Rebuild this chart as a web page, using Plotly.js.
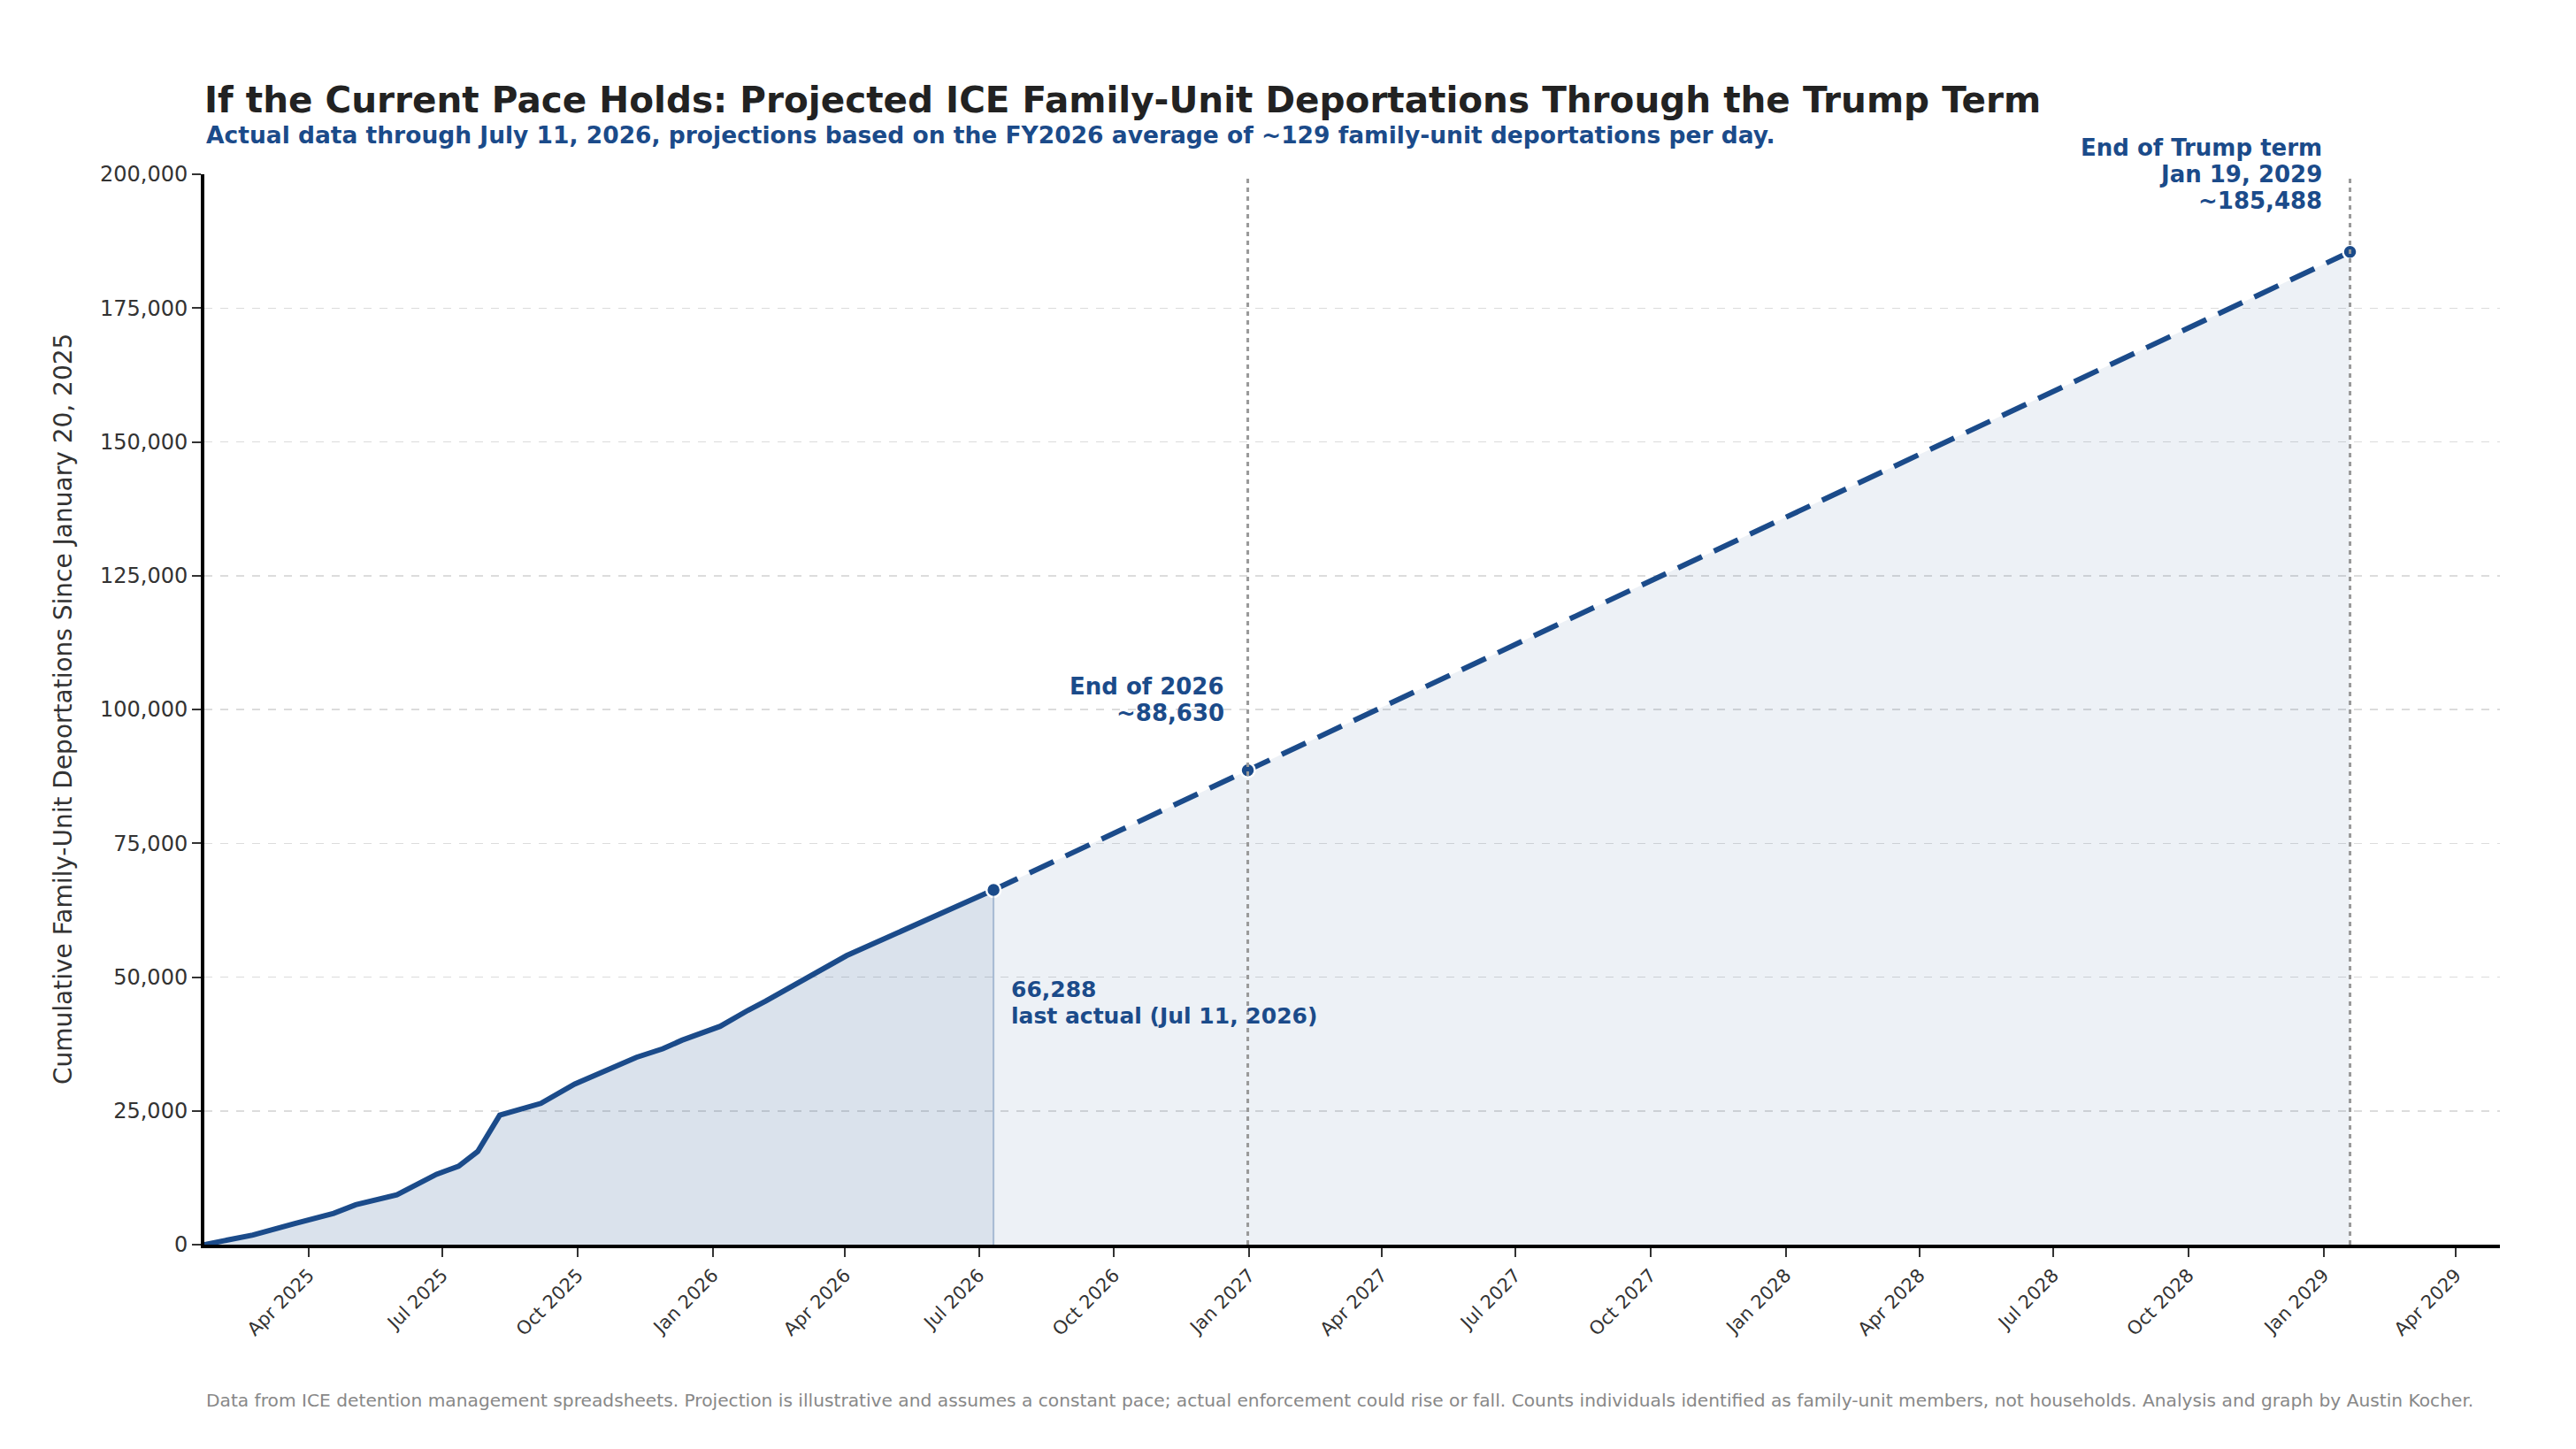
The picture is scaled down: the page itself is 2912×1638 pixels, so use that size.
<!DOCTYPE html>
<html>
<head>
<meta charset="utf-8">
<script src="https://cdn.plot.ly/plotly-3.0.1.min.js"></script>
<style>
  html, body { margin: 0; padding: 0; background: #fff; }
  #chart { width: 2912px; height: 1638px; }
</style>
</head>
<body>
<div id="chart"></div>
<script>
// actual cumulative family-unit deportations since Jan 20, 2025
var actualDates = ['2025-01-20', '2025-02-22', '2025-03-22', '2025-04-18', '2025-05-03',
    '2025-05-31', '2025-06-27', '2025-07-12', '2025-07-25', '2025-08-09', '2025-09-06',
    '2025-09-29', '2025-11-10', '2025-11-28', '2025-12-11', '2026-01-06', '2026-01-25',
    '2026-02-06', '2026-04-02', '2026-07-11'];
var actualValues = [0, 1800, 3900, 5850, 7450, 9300, 13150, 14650, 17400, 24200, 26400,
    30000, 35000, 36600, 38200, 40800, 43800, 45500, 54000, 66288];

// projection at ~129/day
var projDates = ['2026-07-11', '2026-12-31', '2029-01-19'];
var projValues = [66288, 88630, 185488];

var yTicks = [0, 25000, 50000, 75000, 100000, 125000, 150000, 175000, 200000];

var blue = '#1b4b8a';
var font = 'DejaVu Sans, sans-serif';

var lastDate = actualDates[actualDates.length - 1];
var lastVal = actualValues[actualValues.length - 1];

var actual = {
    x: actualDates,
    y: actualValues,
    type: 'scatter',
    mode: 'lines',
    line: { color: blue, width: 6 },
    fill: 'tozeroy',
    fillcolor: 'rgba(27,75,138,0.16)',
    hoverinfo: 'skip'
};

var projection = {
    x: projDates,
    y: projValues,
    type: 'scatter',
    mode: 'lines',
    line: { color: blue, width: 6, dash: '30px,15px' },
    fill: 'tozeroy',
    fillcolor: 'rgba(27,75,138,0.08)',
    hoverinfo: 'skip'
};

var dots = {
    x: [lastDate, projDates[1], projDates[2]],
    y: [lastVal, projValues[1], projValues[2]],
    type: 'scatter',
    mode: 'markers',
    marker: { color: blue, size: 16, line: { color: '#fff', width: 2.5 } },
    hoverinfo: 'skip'
};

function fmt(n) { return n.toLocaleString('en-US'); }

// one annotation per text line, so the line spacing can follow the original
function label(x, y, lines, anchor, dx, dyTop, size) {
    return lines.map(function (t, i) {
        return {
            xref: 'x', yref: 'y', x: x, y: y, xanchor: anchor, yanchor: 'middle',
            xshift: dx, yshift: dyTop - i * 30, showarrow: false,
            text: '<b>' + t + '</b>',
            font: { family: font, size: size, color: blue }
        };
    });
}

var annotations = [
    { xref: 'paper', yref: 'paper', x: 0, y: (1407 - 152) / 1210, xanchor: 'left', yanchor: 'middle',
      showarrow: false,
      text: '<b>Actual data through July 11, 2026, projections based on the FY2026 average of ~129 family-unit deportations per day.</b>',
      font: { family: font, size: 26.5, color: blue } },
    { xref: 'paper', yref: 'paper', x: -160 / 2595, y: 0.5, xanchor: 'center', yanchor: 'middle',
      showarrow: false, textangle: -90,
      text: 'Cumulative Family-Unit Deportations Since January 20, 2025',
      font: { family: font, size: 28, color: '#333' } },
    { xref: 'paper', yref: 'paper', x: 0, y: (1407 - 1583) / 1210, xanchor: 'left', yanchor: 'middle',
      showarrow: false,
      text: 'Data from ICE detention management spreadsheets. Projection is illustrative and assumes a constant pace; actual enforcement could rise or fall. Counts individuals identified as family-unit members, not households. Analysis and graph by Austin Kocher.',
      font: { family: font, size: 20.2, color: '#888' } }
]
    .concat(label(lastDate, lastVal, [fmt(lastVal), 'last actual (Jul 11, 2026)'], 'left', 18, -113, 25))
    .concat(label(projDates[1], projValues[1], ['End of 2026', '~' + fmt(projValues[1])], 'right', -25, 95, 26))
    .concat(label(projDates[2], projValues[2], ['End of Trump term', 'Jan 19, 2029', '~' + fmt(projValues[2])], 'right', -30, 118, 26));

var layout = {
    width: 2912,
    height: 1638,
    margin: { l: 231, r: 86, t: 197, b: 231 },
    paper_bgcolor: '#fff',
    plot_bgcolor: '#fff',
    showlegend: false,
    font: { family: font, color: '#333' },
    title: {
        text: '<b>If the Current Pace Holds: Projected ICE Family-Unit Deportations Through the Trump Term</b>',
        font: { family: font, size: 40.5, color: '#222' },
        x: 231 / 2912, xanchor: 'left', xref: 'container',
        y: 1 - 113 / 1638, yanchor: 'middle'
    },
    xaxis: {
        type: 'date',
        range: ['2025-01-20', '2029-05-01'],
        tick0: '2025-01-01',
        dtick: 'M3',
        tickformat: '%b %Y',
        tickangle: -45,
        tickfont: { family: font, size: 21, color: '#333' },
        ticks: 'outside', ticklen: 10, tickwidth: 2, tickcolor: '#333',
        showgrid: false,
        showline: true, linecolor: '#000', linewidth: 4,
        zeroline: false
    },
    yaxis: {
        range: [0, 200000],
        tickvals: yTicks,
        ticktext: yTicks.map(fmt),
        tickfont: { family: font, size: 24, color: '#333' },
        ticks: 'outside', ticklen: 10, tickwidth: 2, tickcolor: '#333',
        showgrid: true, gridcolor: '#dcdcdc', gridwidth: 1.5, griddash: 'dash',
        showline: true, linecolor: '#000', linewidth: 4,
        zeroline: false
    },
    shapes: [
        { type: 'line', xref: 'x', yref: 'y', x0: lastDate, x1: lastDate, y0: 0, y1: lastVal,
          line: { color: 'rgba(27,75,138,0.3)', width: 2 } },
        { type: 'line', xref: 'x', yref: 'paper', x0: projDates[1], x1: projDates[1], y0: 0, y1: 1,
          line: { color: '#999', width: 3, dash: '5px,5px' } },
        { type: 'line', xref: 'x', yref: 'paper', x0: projDates[2], x1: projDates[2], y0: 0, y1: 1,
          line: { color: '#999', width: 3, dash: '5px,5px' } }
    ],
    annotations: annotations
};

Plotly.newPlot('chart', [projection, actual, dots], layout, { displayModeBar: false, staticPlot: true });
</script>
</body>
</html>
